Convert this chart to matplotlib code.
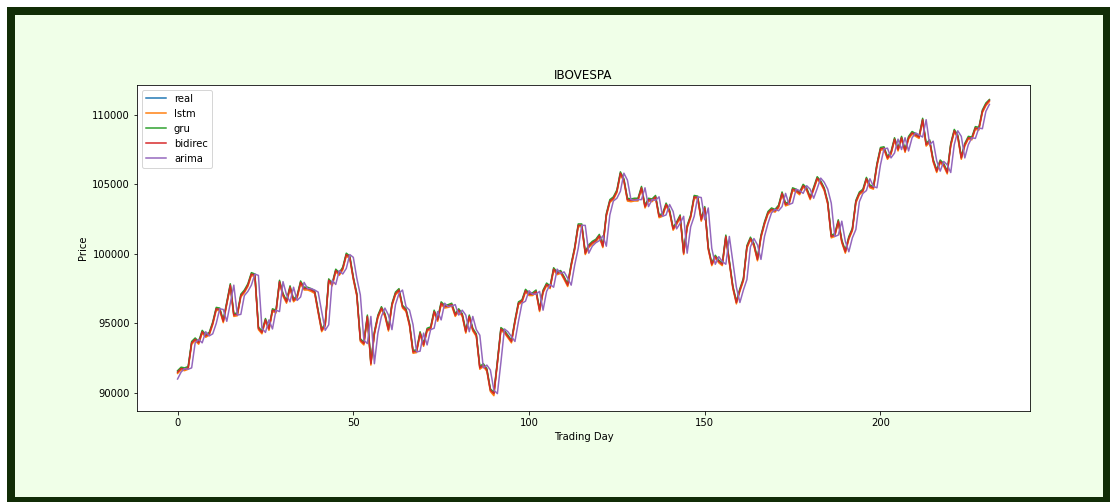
import matplotlib
matplotlib.use("Agg")
import matplotlib.pyplot as plt
from matplotlib.patches import Rectangle

title = "IBOVESPA"
series_names = ["real", "lstm", "gru", "bidirec", "arima"]

real = [
    91500, 91750, 91700, 91800, 93600, 93850, 93600, 94400, 94100, 94250,
    95000, 96050, 96000, 95150, 96450, 97750, 95600, 95650, 97000, 97300,
    97750, 98550, 98450, 94650, 94350, 95250, 94600, 95950, 95850, 98000,
    97050, 96550, 97600, 96650, 96900, 97950, 97500, 97500, 97400, 97250,
    95850, 94500, 94900, 98100, 97800, 98800, 98550, 98950, 99950, 99750,
    98250, 97050, 93800, 93550, 95500, 92100, 94300, 95500, 96100, 95600,
    94550, 96350, 97150, 97400, 96200, 95950, 94900, 92950, 93000, 94300,
    93450, 94550, 94650, 95850, 95250, 96450, 96200, 96250, 96350, 95600,
    95950, 95600, 94400, 95500, 94550, 94150, 91800, 92000, 91650, 90200,
    89950, 92200, 94600, 94400, 94050, 93700, 95150, 96450, 96600, 97350,
    97100, 97100, 97300, 95950, 97300, 97800, 97600, 98900, 98600, 98700,
    98250, 97750, 99200, 100400, 102050, 102050, 100050, 100550, 100800, 100950,
    101300, 100550, 102800, 103800, 104000, 104500, 105800, 105300, 103900, 103850,
    103900, 103900, 104750, 103400, 103900, 103850, 104100, 102700, 102800, 103550,
    103050, 101800, 102200, 102700, 100050, 101950, 102700, 104100, 104050, 102450,
    103300, 100400, 99250, 99800, 99450, 99250, 101250, 99450, 97600, 96500,
    97400, 98150, 100500, 101100, 100650, 99600, 101250, 102200, 102950, 103200,
    103100, 103400, 104350, 103550, 103650, 104650, 104550, 104350, 104900, 104650,
    104000, 104700, 105450, 105150, 104650, 103650, 101250, 101350, 102350, 100900,
    100150, 101150, 101750, 103750, 104350, 104550, 105400, 104850, 104750, 106400,
    107550, 107600, 106900, 107250, 108250, 107500, 108350, 107400, 108350, 108700,
    108550, 108400, 109650, 107850, 108100, 106700, 105950, 106650, 106400, 105850,
    107850, 108850, 108450, 106900, 107850, 108350, 108300, 109050, 109000, 110250,
    110750, 111050,
]

lstm = [
    91400, 91650, 91600, 91700, 93500, 93750, 93500, 94300, 94000, 94150,
    94900, 95950, 95900, 95050, 96350, 97650, 95500, 95550, 96900, 97200,
    97650, 98450, 98350, 94550, 94250, 95150, 94500, 95850, 95750, 97900,
    96950, 96450, 97500, 96550, 96800, 97850, 97400, 97400, 97300, 97150,
    95750, 94400, 94800, 98000, 97700, 98700, 98450, 98850, 99850, 99650,
    98150, 96950, 93700, 93450, 95400, 92000, 94200, 95400, 96000, 95500,
    94450, 96250, 97050, 97300, 96100, 95850, 94800, 92850, 92900, 94200,
    93350, 94450, 94550, 95750, 95150, 96350, 96100, 96150, 96250, 95500,
    95850, 95500, 94300, 95400, 94450, 94050, 91700, 91900, 91550, 90100,
    89800, 92100, 94500, 94300, 93950, 93600, 95050, 96350, 96500, 97250,
    97000, 97000, 97200, 95850, 97200, 97700, 97500, 98800, 98500, 98600,
    98150, 97650, 99100, 100300, 101950, 101950, 99950, 100450, 100700, 100850,
    101200, 100450, 102700, 103700, 103900, 104400, 105700, 105200, 103800, 103750,
    103800, 103800, 104650, 103300, 103800, 103750, 104000, 102600, 102700, 103450,
    102950, 101700, 102100, 102600, 99950, 101850, 102600, 104000, 103950, 102350,
    103200, 100300, 99150, 99700, 99350, 99150, 101150, 99350, 97500, 96400,
    97300, 98050, 100400, 101000, 100550, 99500, 101150, 102100, 102850, 103100,
    103000, 103300, 104250, 103450, 103550, 104550, 104450, 104250, 104800, 104550,
    103900, 104600, 105350, 105050, 104550, 103550, 101150, 101250, 102250, 100800,
    100050, 101050, 101650, 103650, 104250, 104450, 105300, 104750, 104650, 106300,
    107450, 107500, 106800, 107150, 108150, 107400, 108250, 107300, 108250, 108600,
    108450, 108300, 109550, 107750, 108000, 106600, 105850, 106550, 106300, 105750,
    107750, 108750, 108350, 106800, 107750, 108250, 108200, 108950, 108900, 110150,
    110650, 110950,
]

gru = [
    91600, 91850, 91800, 91900, 93700, 93950, 93700, 94500, 94200, 94350,
    95100, 96150, 96100, 95250, 96550, 97850, 95700, 95750, 97100, 97400,
    97850, 98650, 98550, 94750, 94450, 95350, 94700, 96050, 95950, 98100,
    97150, 96650, 97700, 96750, 97000, 98050, 97600, 97600, 97500, 97350,
    95950, 94600, 95000, 98200, 97900, 98900, 98650, 99050, 100050, 99850,
    98350, 97150, 93900, 93650, 95600, 92200, 94400, 95600, 96200, 95700,
    94650, 96450, 97250, 97500, 96300, 96050, 95000, 93050, 93100, 94400,
    93550, 94650, 94750, 95950, 95350, 96550, 96300, 96350, 96450, 95700,
    96050, 95700, 94500, 95600, 94650, 94250, 91900, 92100, 91750, 90300,
    90050, 92300, 94700, 94500, 94150, 93800, 95250, 96550, 96700, 97450,
    97200, 97200, 97400, 96050, 97400, 97900, 97700, 99000, 98700, 98800,
    98350, 97850, 99300, 100500, 102150, 102150, 100150, 100650, 100900, 101050,
    101400, 100650, 102900, 103900, 104100, 104600, 105900, 105400, 104000, 103950,
    104000, 104000, 104850, 103500, 104000, 103950, 104200, 102800, 102900, 103650,
    103150, 101900, 102300, 102800, 100150, 102050, 102800, 104200, 104150, 102550,
    103400, 100500, 99350, 99900, 99550, 99350, 101350, 99550, 97700, 96600,
    97500, 98250, 100600, 101200, 100750, 99700, 101350, 102300, 103050, 103300,
    103200, 103500, 104450, 103650, 103750, 104750, 104650, 104450, 105000, 104750,
    104100, 104800, 105550, 105250, 104750, 103750, 101350, 101450, 102450, 101000,
    100250, 101250, 101850, 103850, 104450, 104650, 105500, 104950, 104850, 106500,
    107650, 107700, 107000, 107350, 108350, 107600, 108450, 107500, 108450, 108800,
    108650, 108500, 109750, 107950, 108200, 106800, 106050, 106750, 106500, 105950,
    107950, 108950, 108550, 107000, 107950, 108450, 108400, 109150, 109100, 110350,
    110850, 111100,
]

bidirec = [
    91500, 91750, 91700, 91800, 93600, 93850, 93600, 94400, 94100, 94250,
    95000, 96050, 96000, 95150, 96450, 97750, 95600, 95650, 97000, 97300,
    97750, 98550, 98450, 94650, 94350, 95250, 94600, 95950, 95850, 98000,
    97050, 96550, 97600, 96650, 96900, 97950, 97500, 97500, 97400, 97250,
    95850, 94500, 94900, 98100, 97800, 98800, 98550, 98950, 99950, 99750,
    98250, 97050, 93800, 93550, 95500, 92100, 94300, 95500, 96100, 95600,
    94550, 96350, 97150, 97400, 96200, 95950, 94900, 92950, 93000, 94300,
    93450, 94550, 94650, 95850, 95250, 96450, 96200, 96250, 96350, 95600,
    95950, 95600, 94400, 95500, 94550, 94150, 91800, 92000, 91650, 90200,
    89950, 92200, 94600, 94400, 94050, 93700, 95150, 96450, 96600, 97350,
    97100, 97100, 97300, 95950, 97300, 97800, 97600, 98900, 98600, 98700,
    98250, 97750, 99200, 100400, 102050, 102050, 100050, 100550, 100800, 100950,
    101300, 100550, 102800, 103800, 104000, 104500, 105800, 105300, 103900, 103850,
    103900, 103900, 104750, 103400, 103900, 103850, 104100, 102700, 102800, 103550,
    103050, 101800, 102200, 102700, 100050, 101950, 102700, 104100, 104050, 102450,
    103300, 100400, 99250, 99800, 99450, 99250, 101250, 99450, 97600, 96500,
    97400, 98150, 100500, 101100, 100650, 99600, 101250, 102200, 102950, 103200,
    103100, 103400, 104350, 103550, 103650, 104650, 104550, 104350, 104900, 104650,
    104000, 104700, 105450, 105150, 104650, 103650, 101250, 101350, 102350, 100900,
    100150, 101150, 101750, 103750, 104350, 104550, 105400, 104850, 104750, 106400,
    107550, 107600, 106900, 107250, 108250, 107500, 108350, 107400, 108350, 108700,
    108550, 108400, 109650, 107850, 108100, 106700, 105950, 106650, 106400, 105850,
    107850, 108850, 108450, 106900, 107850, 108350, 108300, 109050, 109000, 110250,
    110750, 111050,
]

arima = [
    91000, 91500, 91750, 91700, 91800, 93600, 93850, 93600, 94400, 94100,
    94250, 95000, 96050, 96000, 95150, 96450, 97750, 95600, 95650, 97000,
    97300, 97750, 98550, 98450, 94650, 94350, 95250, 94600, 95950, 95850,
    98000, 97050, 96550, 97600, 96650, 96900, 97950, 97500, 97500, 97400,
    97250, 95850, 94500, 94900, 98100, 97800, 98800, 98550, 98950, 99950,
    99750, 98250, 97050, 93800, 93550, 95500, 92100, 94300, 95500, 96100,
    95600, 94550, 96350, 97150, 97400, 96200, 95950, 94900, 92950, 93000,
    94300, 93450, 94550, 94650, 95850, 95250, 96450, 96200, 96250, 96350,
    95600, 95950, 95600, 94400, 95500, 94550, 94150, 91800, 92000, 91650,
    90200, 89950, 92200, 94600, 94400, 94050, 93700, 95150, 96450, 96600,
    97350, 97100, 97100, 97300, 95950, 97300, 97800, 97600, 98900, 98600,
    98700, 98250, 97750, 99200, 100400, 102050, 102050, 100050, 100550, 100800,
    100950, 101300, 100550, 102800, 103800, 104000, 104500, 105800, 105300, 103900,
    103850, 103900, 103900, 104750, 103400, 103900, 103850, 104100, 102700, 102800,
    103550, 103050, 101800, 102200, 102700, 100050, 101950, 102700, 104100, 104050,
    102450, 103300, 100400, 99250, 99800, 99450, 99250, 101250, 99450, 97600,
    96500, 97400, 98150, 100500, 101100, 100650, 99600, 101250, 102200, 102950,
    103200, 103100, 103400, 104350, 103550, 103650, 104650, 104550, 104350, 104900,
    104650, 104000, 104700, 105450, 105150, 104650, 103650, 101250, 101350, 102350,
    100900, 100150, 101150, 101750, 103750, 104350, 104550, 105400, 104850, 104750,
    106400, 107550, 107600, 106900, 107250, 108250, 107500, 108350, 107400, 108350,
    108700, 108550, 108400, 109650, 107850, 108100, 106700, 105950, 106650, 106400,
    105850, 107850, 108850, 108450, 106900, 107850, 108350, 108300, 109050, 109000,
    110250, 110750,
]

W, H = 1110, 502
DPI = 72
fig = plt.figure(figsize=(W / DPI, H / DPI), dpi=DPI, facecolor="white")

# framed background (dark green border, light green interior)
fig.patches.append(Rectangle((7 / W, 0), (W - 7) / W, (H - 7) / H,
                             transform=fig.transFigure, facecolor="#112d06",
                             edgecolor="none", zorder=-10))
fig.patches.append(Rectangle((15 / W, 5 / H), (1103 - 15) / W, (497 - 15) / H,
                             transform=fig.transFigure, facecolor="#f0ffe8",
                             edgecolor="none", zorder=-9))

ax = fig.add_axes([137 / W, (H - 410.5) / H, (1030 - 137) / W, (410.5 - 84.7) / H])
ax.set_facecolor("white")

days = list(range(len(real)))
for name, vals in zip(series_names, [real, lstm, gru, bidirec, arima]):
    ax.plot(days, vals, label=name, linewidth=1.5)

ax.set_title(title)
ax.set_xlabel("Trading Day")
ax.set_ylabel("Price")
ax.legend(loc="upper left")

fig.savefig("out.png", dpi=DPI)
